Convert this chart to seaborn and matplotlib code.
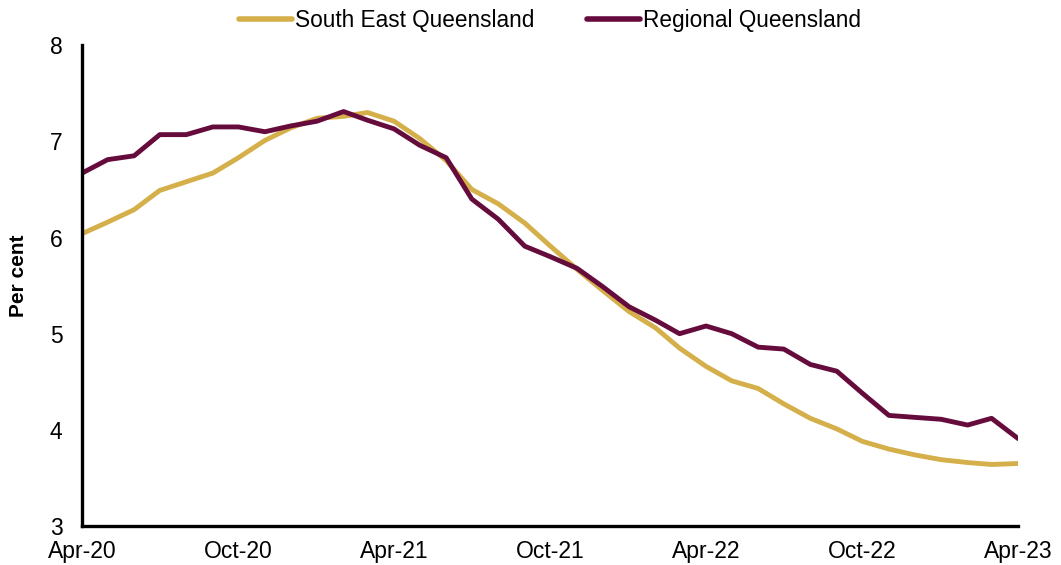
import numpy as np
import pandas as pd
import matplotlib
matplotlib.use("Agg")
import matplotlib.pyplot as plt
import matplotlib.dates as mdates
import seaborn as sns

months = pd.date_range("2020-04-01", "2023-04-01", freq="MS")

seq = [6.04, 6.16, 6.29, 6.49, 6.58, 6.67, 6.83, 7.01, 7.14, 7.24, 7.26, 7.30,
       7.21, 7.03, 6.80, 6.50, 6.35, 6.15, 5.91, 5.67, 5.45, 5.23, 5.06, 4.85,
       4.66, 4.51, 4.43, 4.27, 4.12, 4.01, 3.88, 3.80, 3.74, 3.69, 3.66, 3.64,
       3.65]
regional = [6.67, 6.81, 6.85, 7.07, 7.07, 7.15, 7.15, 7.10, 7.16, 7.21, 7.31, 7.22,
            7.13, 6.96, 6.83, 6.40, 6.19, 5.91, 5.80, 5.68, 5.49, 5.28, 5.14, 5.00,
            5.08, 5.00, 4.86, 4.84, 4.68, 4.61, 4.38, 4.15, 4.13, 4.11, 4.05, 4.12,
            3.91]

series_names = ["South East Queensland", "Regional Queensland"]
colours = ["#D4AF4A", "#650C3D"]

df = pd.DataFrame({
    "month": list(months) * 2,
    "value": seq + regional,
    "region": [series_names[0]] * len(seq) + [series_names[1]] * len(regional),
})

sns.set_style("white")
plt.rcParams["font.family"] = ["Liberation Sans", "DejaVu Sans"]
plt.rcParams["text.color"] = "black"
plt.rcParams["axes.labelcolor"] = "black"
plt.rcParams["xtick.color"] = "black"
plt.rcParams["ytick.color"] = "black"

fig = plt.figure(figsize=(10.61, 5.65), dpi=100)
ax = fig.add_axes([0.0773, 0.069, 0.8822, 0.851])

sns.lineplot(data=df, x="month", y="value", hue="region", palette=colours,
             linewidth=3.5, ax=ax, legend=True)

ax.set_ylim(3, 8)
ax.set_yticks([3, 4, 5, 6, 7, 8])
ax.set_xlim(months[0], months[-1])
ax.set_xticks(months[::6])
ax.xaxis.set_major_formatter(mdates.DateFormatter("%b-%y"))
ax.tick_params(axis="both", labelsize=16.5, length=0)
ax.tick_params(axis="x", pad=10)
ax.tick_params(axis="y", pad=14)
ax.set_xlabel("")
ax.set_ylabel("Per cent", fontsize=15, fontweight="bold")
ax.yaxis.set_label_coords(-0.058, 0.52)

for side in ["top", "right"]:
    ax.spines[side].set_visible(False)
for side in ["left", "bottom"]:
    ax.spines[side].set_color("black")
    ax.spines[side].set_linewidth(2.4)

leg = ax.legend(loc="lower center", bbox_to_anchor=(0.5, 1.0), ncol=2,
                frameon=False, fontsize=16.3, handlelength=2.35,
                handletextpad=0.15, columnspacing=2.3, borderaxespad=0.2)
for line in leg.get_lines():
    line.set_linewidth(4)

fig.savefig("out.png", dpi=100)
